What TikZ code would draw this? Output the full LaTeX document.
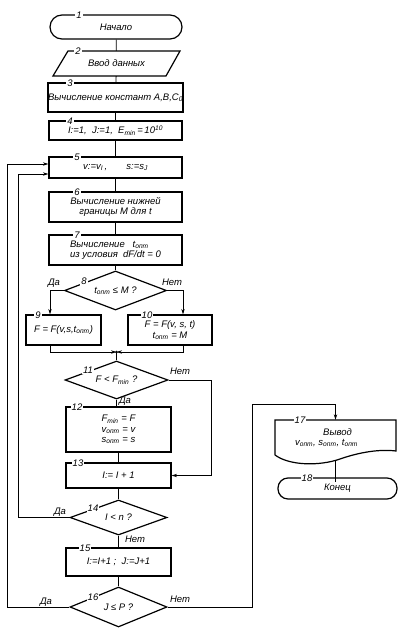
\documentclass[tikz,border=0pt]{standalone}
\usepackage{fontspec}
\setmainfont{Liberation Sans}
\usetikzlibrary{arrows.meta,shapes.geometric}
\newcommand{\lo}[1]{\textsubscript{#1}}
\newcommand{\hi}[1]{\textsuperscript{#1}}
\begin{document}
\begin{tikzpicture}[x=1pt,y=-1pt,
  font=\fontsize{9.5}{10.5}\selectfont\itshape,
  blk/.style={draw, line width=1.2pt, inner sep=0pt, align=center},
  shp/.style={line width=1.2pt},
  num/.style={fill=white, inner sep=1.2pt, font=\fontsize{9.5}{9.5}\selectfont\itshape},
  ln/.style={line width=0.8pt},
  arr/.style={ln, -{Stealth[length=5.5pt,width=3.4pt]}},
  dec/.style={draw, diamond, line width=1.2pt, aspect=2.6, inner sep=0pt},
  lab/.style={inner sep=0pt, font=\fontsize{9.5}{9.5}\selectfont\itshape}
]
\useasboundingbox (0,0) rectangle (408,636);

% main column
\node[blk, rounded corners=12pt, minimum width=132pt, minimum height=24pt] (b1) at (116,27) {Начало};
\node[inner sep=0pt, minimum width=113pt, minimum height=25pt] (b2) at (116.5,63.5) {Ввод данных};
\draw[shp] (68,51) -- (180,51) -- (166,76) -- (53,76) -- cycle;
\node[blk, minimum width=134pt, minimum height=29pt] (b3) at (115.5,97.5) {Вычисление констант A,B,C\lo{0}};
\node[blk, minimum width=133pt, minimum height=19pt] (b4) at (115.5,130.5) {I:=1,\ \ J:=1,\ \ E\lo{min}\,=\,10\hi{10}};
\node[blk, minimum width=133pt, minimum height=21pt] (b5) at (115.5,167.5) {v:=v\lo{I}\,,\qquad s:=s\lo{J}};
\node[blk, minimum width=133pt, minimum height=30pt] (b6) at (115.5,207) {Вычисление нижней\\границы M для t};
\node[blk, minimum width=133pt, minimum height=30pt, align=left] (b7) at (115.5,250) {Вычисление\ \ \ t\lo{опт}\\из условия\ \ dF/dt = 0};
\node[dec, minimum width=102pt, minimum height=39pt] (d8) at (115.5,290.5) {t\lo{опт} ≤ M ?};
\node[blk, minimum width=75pt, minimum height=30pt] (b9) at (63.5,330) {F = F(v,s,t\lo{опт})};
\node[blk, minimum width=84pt, minimum height=30pt] (b10) at (170,330) {F = F(v, s, t)\\t\lo{опт} = M};
\coordinate (j) at (116.5,352);
\node[dec, minimum width=103pt, minimum height=38pt] (d11) at (116.5,380) {F < F\lo{min} ?};
\node[blk, minimum width=105pt, minimum height=45pt] (b12) at (118.5,429.5) {F\lo{min} = F\\v\lo{опт} = v\\s\lo{опт} = s};
\node[blk, minimum width=105pt, minimum height=25pt] (b13) at (118.5,475.5) {I:= I + 1};
\node[dec, minimum width=97pt, minimum height=35pt] (d14) at (118.5,517.5) {I < n ?};
\node[blk, minimum width=105pt, minimum height=28pt] (b15) at (118.5,562) {I:=I+1 ;\ \ J:=J+1};
\node[dec, minimum width=97pt, minimum height=40pt] (d16) at (118.5,607) {J ≤ P ?};

% right column
\node[inner sep=0pt, minimum width=121pt, minimum height=35pt, align=center] (b17) at (335.5,437.5) {\hspace*{4pt}Вывод\\v\lo{опт}, s\lo{опт}, t\lo{опт}\hspace*{18pt}};
\draw[shp] (275,455) -- (275,420) -- (396,420) -- (396,451)
  .. controls (380,449) and (360,452) .. (340,459)
  .. controls (320,466) and (290,466) .. (275,455);
\node[blk, rounded corners=10pt, minimum width=119pt, minimum height=21pt] (b18) at (337.5,488.5) {Конец};
\coordinate (loopR) at (252,404);

% numbers
\node[num] (n1) at (79,15) {1};
\node[num] (n2) at (78,51) {2};
\node[num] (n3) at (70,83) {3};
\node[num] (n4) at (70,121) {4};
\node[num] (n5) at (77,157) {5};
\node[num] (n6) at (77,192) {6};
\node[num] (n7) at (77,235) {7};
\node[num] (n8) at (84,281.5) {8};
\node[num] (n9) at (38,315) {9};
\node[num] (n10) at (147,315) {10};
\node[num] (n11) at (88,370) {11};
\node[num] (n12) at (77,407) {12};
\node[num] (n13) at (78,463) {13};
\node[num] (n14) at (93,508.5) {14};
\node[num] (n15) at (85,548) {15};
\node[num] (n16) at (93,597.5) {16};
\node[num] (n17) at (300,420) {17};
\node[num] (n18) at (307,478) {18};

% yes / no labels
\node[lab] (y8) at (54,283) {Да};
\node[lab] (no8) at (172,282) {Нет};
\node[lab] (no11) at (180,371) {Нет};
\node[lab] (y11) at (125,401) {Да};
\node[lab] (y14) at (60,512) {Да};
\node[lab] (no14) at (135,539) {Нет};
\node[lab] (y16) at (46,602) {Да};
\node[lab] (no16) at (180,599) {Нет};

% connectors
\draw[ln] (b1) -- (b2);
\draw[ln] (b2) -- (b3);
\draw[ln] (b3) -- (b4);
\draw[ln] (b4) -- (b5);
\draw[ln] (b5) -- (b6);
\draw[ln] (b6) -- (b7);
\draw[ln] (b7) -- (d8);
\draw[arr] (d8.west) -| ([xshift=-13.5pt]b9.north);
\draw[arr] (d8.east) -| ([xshift=13pt]b10.north);
\draw[arr] ([xshift=-13.5pt]b9.south) |- (j);
\draw[arr] ([xshift=13pt]b10.south) |- (j);
\fill (j) circle (1.5pt);
\draw[ln] (j) -- (d11.north);
\draw[ln] (d11.south) -- (d11.south |- b12.north);
\draw[arr] (d11.east) -- ++(43,0) |- (b13.east);
\draw[ln] (b12) -- (b13);
\draw[ln] (b13) -- (d14);
\draw[arr] (d14.west) -- ++(-51,0) |- ([yshift=-6.5pt]b5.west);
\draw[ln] (d14) -- (b15);
\draw[ln] (b15) -- (d16);
\draw[arr] (d16.west) -- ++(-62,0) |- ([yshift=3.5pt]b5.west);
\draw[arr] (d16.east) -| (loopR) -| (b17.north);
\draw[ln] ([yshift=-5pt]b17.south) -- ([yshift=-5pt]b17.south |- b18.north);
\end{tikzpicture}
\end{document}
